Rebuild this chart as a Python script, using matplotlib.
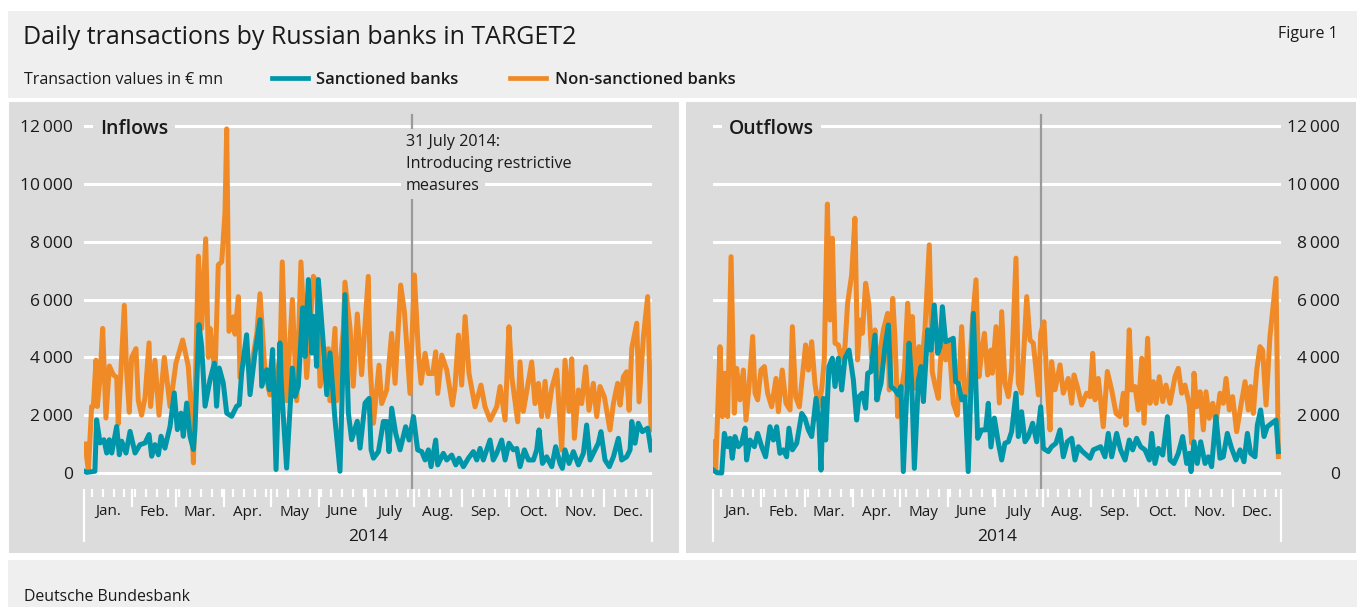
import numpy as np
import matplotlib
matplotlib.use('agg')
import matplotlib.pyplot as plt
from matplotlib.patches import Rectangle
from matplotlib.lines import Line2D
from matplotlib.ticker import FixedLocator, FuncFormatter

plt.rcParams['font.family'] = ['Open Sans', 'DejaVu Sans']

W, H = 1365, 607
TEAL = '#0096a9'
ORANGE = '#f08a26'
PANEL = '#dcdcdc'
HEADER = '#efefef'
TXT = '#1a1a1a'

# x values are days since 1 Jan 2014
in_non_days = [0.6, 2.8, 4.9, 6, 7.7, 8.6, 10.3, 12, 14.1, 16.3, 18.8, 21, 22, 25.9, 27.4, 29.1, 30.6, 33.4,
               34.9, 37, 39.2, 41.8, 42.8, 45.6, 48.2, 51.6, 55.3, 59.1, 63.4, 67, 69.2, 70.3, 71.3, 73.5,
               75.6, 78.2, 79.9, 81, 83.1, 84.2, 86.3, 88.5, 90.6, 91.7, 93.2, 96, 97, 99.2, 100.2, 103.5,
               106.7, 111, 113.1, 116.3, 119.5, 122.7, 126, 127.4, 130.2, 133.9, 136.7, 139.4, 143.1, 147.4,
               149.5, 151.7, 157, 158, 161.3, 162.4, 166.7, 167.7, 171, 173, 175.6, 178.4, 182.7, 183.8, 186,
               189.6, 191.3, 194.5, 197.7, 199.9, 203.5, 205.9, 209.5, 212.3, 214.9, 216.6, 219.2, 221.3,
               224.1, 226, 227.3, 229.9, 233.1, 236.7, 238.4, 240.6, 242.7, 244.9, 247.4, 251.3, 255.1, 257.7,
               261, 265.2, 267.4, 270.6, 273.1, 274.9, 276.6, 278.7, 280.2, 282.3, 285.6, 287.7, 289.8, 292,
               294.1, 296.3, 298, 300.6, 303.8, 307, 309.1, 311.7, 313.4, 315.1, 317.7, 319.8, 322.4, 324.5,
               327.3, 329.5, 331.6, 334.4, 338, 340.2, 342.9, 344.5, 346.6, 348.7, 350.3, 352, 355.2, 356.7,
               359.5, 362.2, 364.4]
in_non_vals = [1000, 100, 2300, 2300, 3900, 2300, 3300, 5000, 1900, 3700, 3400, 3300, 1700, 5800, 3500, 2100,
               4000, 4300, 2500, 2000, 2600, 4500, 2300, 3900, 2000, 4000, 2300, 3800, 4600, 3700, 2000, 350,
               2500, 7500, 5000, 8100, 4000, 5000, 4000, 3400, 7200, 7300, 9000, 11900, 4900, 5400, 4800, 6100,
               3300, 4200, 3400, 4800, 6200, 3500, 2700, 3000, 4000, 7300, 2500, 6000, 2500, 7300, 3300, 6800,
               6600, 3000, 4300, 2500, 5000, 2500, 5000, 6600, 5000, 3000, 5500, 3400, 6800, 3790, 1720, 3730,
               2400, 2870, 4830, 3100, 6500, 5580, 2750, 6850, 4140, 3100, 4140, 3440, 3440, 4190, 2750, 4080,
               3560, 2350, 2990, 4770, 3040, 5410, 3440, 2290, 3040, 2290, 1830, 2290, 2990, 1830, 5060, 3330,
               2630, 1770, 3840, 2130, 3170, 3840, 2400, 3100, 1950, 3170, 1950, 2930, 3560, 790, 3900, 2130,
               3950, 1200, 2870, 2400, 3670, 2170, 3100, 1950, 2990, 2630, 1490, 2400, 3100, 2350, 3330, 3500,
               2170, 4310, 5180, 2460, 4720, 6100, 1490]

in_sanc_days = [0.6, 1.7, 7, 8.1, 10.3, 12.8, 14.6, 16.3, 17.8, 21, 22.7, 24.2, 27, 29.6, 32.8, 36, 39.2, 41.8,
                43.5, 45.6, 47.8, 49.5, 52, 55.3, 58, 60, 62.3, 63.8, 66, 68.1, 70.3, 71.3, 73.9, 75.6, 77.8,
                81, 83.8, 85.2, 86.9, 89.5, 91.7, 94.9, 98.1, 99.8, 101.3, 104.5, 106.7, 109.9, 113.1, 114.2,
                117.4, 119.1, 121.2, 123.4, 125.9, 127, 130.2, 133.9, 135.6, 137.7, 140.5, 142, 144.2, 146.3,
                147.4, 149.5, 150.6, 153.4, 156, 158.1, 161.3, 164.5, 167.7, 169.9, 172, 175.6, 177.4, 180.6,
                183.2, 184.5, 186, 189.2, 192.4, 194.5, 196, 197.7, 200.3, 203.1, 206.7, 208.9, 211.7, 214.4,
                217, 219.2, 221.3, 223, 226, 227.3, 230.9, 233.1, 236.3, 238.9, 241, 243.8, 247, 250.2, 252.4,
                254.5, 256.6, 260.9, 263, 265.2, 268.4, 270.6, 273.1, 275.9, 278.1, 280.2, 283, 285.6, 288.8,
                290.9, 292.4, 294.6, 297.3, 300.6, 303.1, 305.9, 307.4, 309.1, 311.7, 314.5, 317.7, 320.9, 323,
                325.2, 328.4, 330.5, 332.2, 334.8, 337.6, 340.2, 343.4, 345.5, 348.7, 350.9, 352, 354.1, 356.2,
                358.8, 362.2, 364.4]
in_sanc_vals = [50, 20, 60, 1840, 1040, 1150, 690, 1150, 690, 1610, 630, 1100, 690, 1440, 690, 980, 1040, 1330,
                580, 980, 630, 1270, 860, 1610, 2770, 1500, 2070, 1270, 2420, 1270, 810, 1500, 5130, 4380, 2310,
                3230, 3800, 2310, 3630, 3110, 2070, 1960, 2310, 2360, 3460, 4780, 2710, 4150, 5300, 3000, 3570,
                2880, 4270, 120, 4500, 2880, 170, 3630, 2650, 3000, 5710, 4030, 6690, 4150, 5420, 3690, 6690,
                4730, 2710, 4150, 1840, 60, 6170, 2070, 1150, 1790, 860, 2420, 2580, 800, 510, 740, 1780, 1780,
                740, 2240, 1370, 800, 1600, 1140, 1950, 800, 740, 450, 800, 220, 1140, 280, 680, 450, 620, 280,
                510, 220, 510, 740, 450, 850, 450, 1140, 450, 680, 1140, 450, 1030, 800, 850, 220, 800, 450, 450,
                800, 1490, 330, 560, 220, 910, 330, 160, 800, 330, 740, 280, 680, 1660, 450, 800, 1030, 1430,
                450, 220, 560, 1200, 450, 560, 800, 1780, 1030, 1720, 1430, 1550, 800]

out_non_days = [0.2, 1.7, 4.5, 6, 7.7, 9.4, 11.6, 13.7, 15.2, 17.3, 19.5, 21.2, 23.3, 25.5, 27, 28.7, 30.8, 33,
                35.1, 37.7, 40.5, 42, 44.5, 46.9, 49.5, 51, 53.1, 55.5, 57.4, 59.5, 61.3, 63.4, 65.5, 67.7,
                69.8, 71.5, 73.5, 75.2, 76.7, 78.4, 80.5, 82.7, 84.8, 86.5, 89.1, 91.2, 92.9, 94.5, 96, 98.1,
                100.2, 101.9, 104.1, 105.8, 107.3, 109.5, 112.2, 113.3, 115.5, 117, 118.7, 121.2, 123, 125.1,
                126.6, 128.1, 130.2, 132.4, 134.1, 136.2, 139, 140.9, 142.7, 144.8, 147.4, 149.5, 151.7, 154.4,
                157, 159.8, 161.9, 164.5, 166.6, 169, 170.9, 172.6, 174.4, 176.5, 178.6,
                179.5, 181.9, 184, 185.5, 187.6, 189.8, 191.9, 194.7, 196.2, 198.3, 201.6, 203.7, 205.8, 207.6,
                209.1, 210.6, 212.7, 214.4, 216.6, 217.6, 219.8, 223, 225.1, 228.3, 230.5, 232, 234.1, 236.9,
                240.1, 242.3, 244, 245.5, 247.6, 250.8, 253.4, 256.2, 259, 261.5, 263.7, 265.4, 267.5, 269,
                271.2, 273.3, 275.5, 277, 279.3, 280.8, 283, 284.7, 286.8, 289, 291.1, 293.7, 296.9, 299, 301.2,
                303.3, 306.1, 307.6, 309.1, 310.8, 313, 315.1, 316.8, 318.9, 321.1, 323.2, 325.8, 327.9, 329.7,
                331.8, 333.9, 336.5, 339.1, 341.9, 344, 345.5, 347.2, 349.4, 351.5, 353.2, 355.4, 357.9, 361.8,
                363.3]
out_non_vals = [1080, 100, 4370, 1950, 3450, 1950, 7480, 2070, 3620, 2530, 3560, 1830, 3100, 4720, 2760, 2530,
                3560, 3680, 2760, 2290, 3270, 2120, 3560, 2410, 2180, 5060, 2640, 2290, 3330, 4430, 3560, 4540,
                3100, 2290, 2870, 3910, 9300, 5290, 8120, 4490, 4430, 3910, 4370, 5870, 6850, 8810, 3910, 5290,
                4830, 6560, 5810, 3970, 4950, 2530, 4200, 4950, 5520, 2870, 6040, 4600, 1950, 2930, 3560, 5870,
                4490, 5410, 2930, 4370, 3740, 4950, 7890, 3500, 3040, 2580, 4950, 3910, 4490, 2410, 2000, 5060,
                2640, 3100, 5180, 6680, 3330, 4140, 4830, 3390, 4250,
                3450, 5060, 2420, 5580, 3100, 2640, 3560, 7430, 3100, 2760, 6100, 4600, 4490, 3560, 2700, 4830,
                5230, 3330, 1490, 3850, 2880, 3740, 2760, 3270, 2410, 3390, 2990, 2350, 2760, 2640, 4140, 2530,
                3270, 1600, 3510, 2870, 2060, 1950, 2760, 1660, 4950, 2870, 2990, 2180, 3970, 1720, 4660, 2410,
                3160, 2410, 3330, 2470, 3040, 2410, 3330, 3620, 2760, 3040, 2350, 1030, 3450, 2290, 2810, 1490,
                2810, 1890, 2410, 1720, 2760, 2410, 3270, 2180, 2640, 1430, 2290, 3160, 2180, 2990, 2060, 3560,
                4370, 4250, 2350, 4720, 6730, 570]

out_sanc_days = [0.2, 2.4, 5.6, 7.3, 9.4, 10.9, 12.4, 14.1, 16.3, 18.4, 20.6, 21.6, 23.8, 26.6, 28.7, 31.3, 33.8,
                 36.6, 38.8, 40.9, 43, 45.2, 47.3, 48.8, 51, 53.8, 57, 59.1, 61.3, 63.4, 66.2, 68.1, 69.4, 70.9,
                 72.4, 74.5, 76.7, 78.4, 80.5, 82.7, 84.8, 87.4, 90.2, 92.3, 93.8, 96, 98.1, 99.4, 101.5, 104.1,
                 105.2, 108, 110.5, 112.7, 114.4, 117, 119.1, 120.8, 122.3, 124.5, 126, 127.7, 129.4, 132, 133.7,
                 135.2, 138, 140.1, 142.2, 144.4, 145.9, 147.4, 149.5, 152.3, 154.4, 155.9, 157.6, 159.8, 161.9,
                 164, 167.3, 170.1, 172.6, 175.2, 176.9, 178.6, 180.8,
                 183.4, 185.5, 187.6, 189.8, 191.9, 194.7, 196.2, 198.3, 200.5, 202.6, 205.4, 208, 210.6, 212.3,
                 215.5, 217.6, 220.4, 223, 225.1, 227.7, 230.5, 232.6, 234.8, 237.5, 240.1, 242.3, 244.4, 246.5,
                 249.1, 251.9, 254, 256.2, 259.4, 261.9, 264.8, 267.5, 269.7, 272.2, 274.8, 277.6, 280.4, 281.9,
                 284, 286.2, 289, 292, 293.7, 296.2, 299, 301.8, 304.4, 306.1, 307.2, 309.1, 311.2, 313.4, 316.2,
                 318.3, 320.4, 323.2, 325.8, 327.9, 330.5, 333.3, 336.1, 338.7, 341.2, 343.4, 345.5, 348.3, 349.8,
                 351.9, 354.1, 356.2, 359, 361.8, 363.3]
out_sanc_vals = [100, 10, 0, 1370, 910, 1200, 510, 1260, 910, 1030, 1550, 450, 1140, 910, 1370, 910, 560, 1600,
                 1140, 1600, 680, 800, 560, 1550, 800, 1030, 2060, 1890, 1490, 1260, 2580, 1720, 100, 2580, 1140,
                 3680, 3970, 2990, 3970, 2870, 3970, 4250, 3220, 1830, 2640, 2760, 2240, 3450, 3500, 4770, 2530,
                 3100, 4370, 5120, 2990, 2870, 2700, 2990, 50, 2760, 4490, 3100, 160, 3220, 3680, 2470, 4950, 4250,
                 5810, 4140, 4370, 5750, 4540, 4600, 4660, 3160, 3100, 2530, 2640, 50, 5520, 1200, 1490, 1490, 2410,
                 900, 1900,
                 1030, 450, 1030, 1080, 1430, 2760, 1260, 2120, 1080, 1260, 1720, 1080, 2290, 850, 740, 910, 1030,
                 1490, 560, 1080, 1200, 450, 910, 740, 620, 510, 800, 850, 910, 560, 1370, 560, 1370, 800, 450, 1140,
                 800, 1200, 910, 800, 450, 1370, 330, 850, 620, 1950, 450, 330, 680, 1260, 330, 680, 50, 1080, 330,
                 1080, 330, 560, 220, 1950, 510, 560, 1370, 850, 450, 800, 390, 1370, 680, 560, 1660, 2180, 1260,
                 1600, 1720, 1830, 740]

month_starts = [0, 31, 59, 90, 120, 151, 181, 212, 243, 273, 304, 334, 365]
month_names = ['Jan.', 'Feb.', 'Mar.', 'Apr.', 'May', 'June', 'July', 'Aug.', 'Sep.', 'Oct.', 'Nov.', 'Dec.']
mondays = list(range(5, 365, 7))
restriction_day = 211
y_ticks = list(range(0, 12001, 2000))

fig = plt.figure(figsize=(W / 100, H / 100), dpi=100)
fig.patch.set_facecolor('white')


def fx(x):
    return x / W


def fy(y):
    return 1 - y / H


def box(x0, y0, x1, y1, color):
    fig.add_artist(Rectangle((fx(x0), fy(y1)), (x1 - x0) / W, (y1 - y0) / H, transform=fig.transFigure,
                             facecolor=color, edgecolor='none', zorder=0))


box(8, 11, 1357, 98, HEADER)
box(9, 102, 679, 553, PANEL)
box(686, 102, 1356, 553, PANEL)
box(8, 560, 1357, 607, HEADER)

# header
fig.text(fx(23), fy(37.5), 'Daily transactions by Russian banks in TARGET2', fontsize=18, color=TXT,
         va='center')
fig.text(fx(1338), fy(34.5), 'Figure 1', fontsize=11.5, color=TXT, ha='right', va='center')
fig.text(fx(24), fy(79.5), 'Transaction values in € mn', fontsize=11.5, color=TXT, va='center')
fig.add_artist(Line2D([fx(272), fx(308)], [fy(78), fy(78)], color=TEAL, lw=3.4, transform=fig.transFigure))
fig.text(fx(316), fy(79.5), 'Sanctioned banks', fontsize=12, color=TXT, va='center', weight='semibold')
fig.add_artist(Line2D([fx(510), fx(546)], [fy(78), fy(78)], color=ORANGE, lw=3.4, transform=fig.transFigure))
fig.text(fx(555), fy(79.5), 'Non-sanctioned banks', fontsize=12, color=TXT, va='center', weight='semibold')
fig.text(fx(24), fy(597), 'Deutsche Bundesbank', fontsize=11.4, color=TXT, va='center')

AX_TOP, AX_BOT = 110, 489
PX_PER = 347 / 12000
ylo = -(AX_BOT - 473) / PX_PER
yhi = 12000 + (126 - AX_TOP) / PX_PER
AXH = AX_BOT - AX_TOP


def frac(y):
    return (AX_BOT - y) / AXH


def setup(ax, side, label):
    ax.set_facecolor('none')
    for s in ax.spines.values():
        s.set_visible(False)
    ax.set_xlim(0, 365)
    ax.set_ylim(ylo, yhi)
    ax.set_yticks(y_ticks)
    ax.yaxis.set_major_formatter(FuncFormatter(lambda v, p: f'{int(v):,}'.replace(',', '\u2009')))
    ax.grid(axis='y', color='white', lw=2.2)
    ax.set_axisbelow(True)
    if side == 'right':
        ax.yaxis.tick_right()
        ax.tick_params(axis='y', length=0, labelsize=12.5, labelcolor=TXT, pad=42.5)
        for t in ax.get_yticklabels():
            t.set_horizontalalignment('right')
    else:
        ax.tick_params(axis='y', length=0, labelsize=12.5, labelcolor=TXT, pad=8)
    ax.xaxis.set_major_locator(FixedLocator(month_starts[1:-1]))
    ax.xaxis.set_minor_locator(FixedLocator(mondays))
    ax.tick_params(axis='x', which='major', length=13, width=1.6, color='white', labelbottom=False)
    ax.tick_params(axis='x', which='minor', length=6, width=1.6, color='white')
    ax.vlines([0, 365], frac(542), 0, transform=ax.get_xaxis_transform(), color='white', lw=1.6,
              clip_on=False)
    for i, name in enumerate(month_names):
        ax.text((month_starts[i] + month_starts[i + 1]) / 2, frac(512), name, transform=ax.get_xaxis_transform(),
                ha='center', va='center', fontsize=11, color=TXT)
    ax.text(0.5, frac(537), '2014', transform=ax.transAxes, ha='center', va='center', fontsize=12.5, color=TXT)
    ax.axvline(restriction_day, ymin=frac(488), ymax=frac(115), color='#9a9a9a', lw=1.6, zorder=1.5)
    ax.text(16 / 568, frac(129), label, transform=ax.transAxes, fontsize=14, weight='semibold', color=TXT,
            va='center', zorder=1.8,
            bbox=dict(boxstyle='square,pad=0.35', facecolor=PANEL, edgecolor='none'))


axL = fig.add_axes([fx(84), fy(AX_BOT), 568 / W, AXH / H])
axR = fig.add_axes([fx(713), fy(AX_BOT), 568 / W, AXH / H])
setup(axL, 'left', 'Inflows')
setup(axR, 'right', 'Outflows')

axL.plot(in_non_days, in_non_vals, color=ORANGE, lw=3.6, zorder=2, solid_joinstyle='round')
axL.plot(in_sanc_days, in_sanc_vals, color=TEAL, lw=3.6, zorder=2.1, solid_joinstyle='round')
axR.plot(out_non_days, out_non_vals, color=ORANGE, lw=3.6, zorder=2, solid_joinstyle='round')
axR.plot(out_sanc_days, out_sanc_vals, color=TEAL, lw=3.6, zorder=2.1, solid_joinstyle='round')

for txt, yy in [('31 July 2014:', 142), ('Introducing restrictive', 164), ('measures', 186)]:
    axL.text((406 - 84) / 568, frac(yy), txt, transform=axL.transAxes, fontsize=11.6, color=TXT, va='center',
             zorder=1.8, bbox=dict(boxstyle='square,pad=0.3', facecolor=PANEL, edgecolor='none'))

fig.savefig('out.png', dpi=100)
